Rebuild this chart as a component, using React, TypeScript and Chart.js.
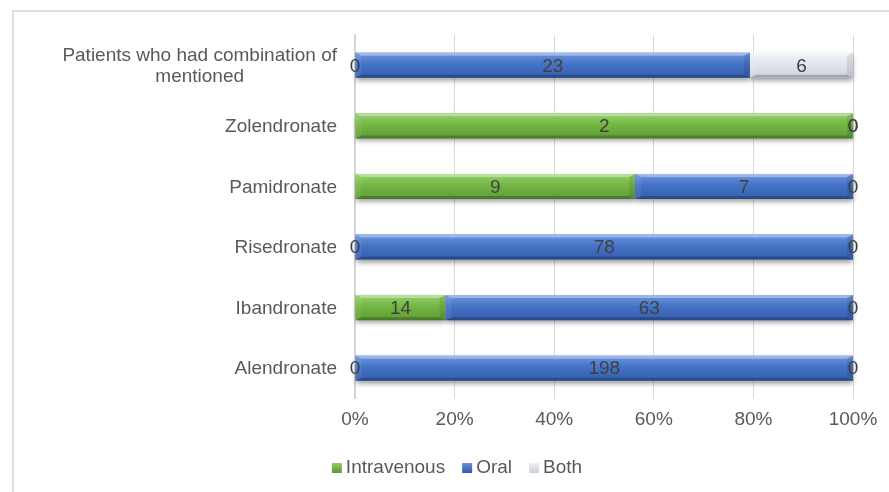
import React, { useEffect, useRef } from 'react';
import { Chart, registerables } from 'chart.js';

Chart.register(...registerables);

// Treatment categories, top to bottom
const CATEGORIES: (string | string[])[] = [
  ['Patients who had combination of', 'mentioned'],
  'Zolendronate',
  'Pamidronate',
  'Risedronate',
  'Ibandronate',
  'Alendronate',
];

// Patient counts per route of administration
const SERIES_NAMES = ['Intravenous', 'Oral', 'Both'];
const INTRAVENOUS = [0, 2, 9, 0, 14, 0];
const ORAL = [23, 0, 7, 78, 63, 198];
const BOTH = [6, 0, 0, 0, 0, 0];

const PERCENT_STEP = 20;

const FONT = "'Liberation Sans', Arial, sans-serif";
const FONT_SIZE = 19;

type Palette = { top: string; mid: string; bottom: string; base: string };
const PALETTES: Palette[] = [
  { top: '#96d06c', mid: '#74b644', bottom: '#5e9c36', base: '#70ad47' },
  { top: '#6f97df', mid: '#4472c6', bottom: '#365fae', base: '#4472c4' },
  { top: '#f1f3f7', mid: '#e2e6ed', bottom: '#cdd3dc', base: '#dfe3ea' },
];

const COUNTS = [INTRAVENOUS, ORAL, BOTH];
const TOTALS = CATEGORIES.map((_, i) => COUNTS.reduce((s, arr) => s + arr[i], 0));
const SHARES = COUNTS.map((arr) => arr.map((v, i) => (TOTALS[i] ? (v / TOTALS[i]) * 100 : 0)));

function segmentRect(el: any) {
  const { x, y, base, height } = el.getProps(['x', 'y', 'base', 'height'], true);
  const l = Math.min(x, base);
  const r = Math.max(x, base);
  return { l, r, t: y - height / 2, b: y + height / 2, cx: (x + base) / 2, cy: y };
}

function drawBevel(ctx: CanvasRenderingContext2D, l: number, t: number, r: number, b: number, p: Palette) {
  const w = Math.min(6, (r - l) / 2);
  const g = ctx.createLinearGradient(0, t, 0, b);
  g.addColorStop(0, p.top);
  g.addColorStop(0.45, p.mid);
  g.addColorStop(1, p.bottom);
  ctx.fillStyle = g;
  ctx.fillRect(l, t, r - l, b - t);

  const facet = (pts: number[][], color: string) => {
    ctx.beginPath();
    ctx.moveTo(pts[0][0], pts[0][1]);
    for (let k = 1; k < pts.length; k++) ctx.lineTo(pts[k][0], pts[k][1]);
    ctx.closePath();
    ctx.fillStyle = color;
    ctx.fill();
  };
  const bw = 3;
  facet([[l, t], [r, t], [r - w, t + bw], [l + w, t + bw]], 'rgba(255,255,255,0.35)');
  facet([[l, b], [r, b], [r - w, b - bw], [l + w, b - bw]], 'rgba(0,0,0,0.22)');
  facet([[l, t], [l + w, t + bw], [l + w, b - bw], [l, b]], 'rgba(255,255,255,0.07)');
  facet([[r, t], [r - w, t + bw], [r - w, b - bw], [r, b]], 'rgba(0,0,0,0.09)');
}

const bevelBars = {
  id: 'bevelBars',
  beforeDatasetsDraw(chart: any) {
    const ctx: CanvasRenderingContext2D = chart.ctx;
    ctx.save();
    ctx.shadowColor = 'rgba(0,0,0,0.4)';
    ctx.shadowBlur = 5;
    ctx.shadowOffsetY = 3;
    ctx.fillStyle = '#ffffff';
    chart.data.datasets.forEach((_: any, di: number) => {
      chart.getDatasetMeta(di).data.forEach((el: any) => {
        const s = segmentRect(el);
        if (s.r - s.l < 0.5) return;
        ctx.fillRect(s.l, s.t, s.r - s.l, s.b - s.t);
      });
    });
    ctx.restore();
  },
  afterDatasetsDraw(chart: any) {
    const ctx: CanvasRenderingContext2D = chart.ctx;
    ctx.save();
    chart.data.datasets.forEach((_: any, di: number) => {
      chart.getDatasetMeta(di).data.forEach((el: any) => {
        const s = segmentRect(el);
        if (s.r - s.l < 0.5) return;
        drawBevel(ctx, s.l, s.t, s.r, s.b, PALETTES[di]);
      });
    });
    // value labels, centred in each segment
    ctx.font = `${FONT_SIZE}px ${FONT}`;
    ctx.fillStyle = '#404040';
    ctx.textAlign = 'center';
    ctx.textBaseline = 'middle';
    chart.data.datasets.forEach((_: any, di: number) => {
      chart.getDatasetMeta(di).data.forEach((el: any, i: number) => {
        const s = segmentRect(el);
        ctx.fillText(String(COUNTS[di][i]), s.cx, s.cy + 1);
      });
    });
    ctx.restore();
  },
  afterDraw(chart: any) {
    const ctx: CanvasRenderingContext2D = chart.ctx;
    const yScale = chart.scales.y;
    ctx.save();
    ctx.font = `${FONT_SIZE}px ${FONT}`;
    ctx.fillStyle = '#595959';
    ctx.textAlign = 'center';
    ctx.textBaseline = 'middle';
    const rightEdge = chart.chartArea.left - 18;
    const lineH = 21;
    CATEGORIES.forEach((lab, i) => {
      const lines = Array.isArray(lab) ? lab : [lab];
      const maxW = Math.max(...lines.map((ln) => ctx.measureText(ln).width));
      const cx = rightEdge - maxW / 2;
      const cy = yScale.getPixelForValue(i);
      lines.forEach((ln, k) => {
        ctx.fillText(ln, cx, cy + (k - (lines.length - 1) / 2) * lineH + 1);
      });
    });

    // legend
    const box = 10;
    const gapText = 4;
    const gapItem = 17;
    const widths = SERIES_NAMES.map((n) => box + gapText + ctx.measureText(n).width);
    const total = widths.reduce((a, b) => a + b, 0) + gapItem * (SERIES_NAMES.length - 1);
    let x = 457 - total / 2;
    const ly = 467;
    ctx.textAlign = 'left';
    SERIES_NAMES.forEach((n, i) => {
      const p = PALETTES[i];
      const g = ctx.createLinearGradient(0, ly - box / 2, 0, ly + box / 2);
      g.addColorStop(0, p.top);
      g.addColorStop(1, p.bottom);
      ctx.fillStyle = g;
      ctx.fillRect(x, ly - box / 2 + 1, box, box);
      ctx.fillStyle = '#595959';
      ctx.fillText(n, x + box + gapText, ly + 1);
      x += widths[i] + gapItem;
    });
    ctx.restore();
  },
};

export default function App() {
  const canvasRef = useRef<HTMLCanvasElement | null>(null);

  useEffect(() => {
    if (!canvasRef.current) return;
    const chart = new Chart(canvasRef.current, {
      type: 'bar',
      data: {
        labels: CATEGORIES,
        datasets: SERIES_NAMES.map((name, di) => ({
          label: name,
          data: SHARES[di],
          backgroundColor: PALETTES[di].base,
          borderWidth: 0,
          categoryPercentage: 1,
          barPercentage: 0.413,
        })),
      },
      options: {
        indexAxis: 'y',
        responsive: false,
        animation: false,
        layout: { padding: { top: 35, right: 36, bottom: 0, left: 0 } },
        plugins: {
          legend: { display: false },
          tooltip: { enabled: false },
        },
        scales: {
          x: {
            stacked: true,
            min: 0,
            max: 100,
            ticks: {
              stepSize: PERCENT_STEP,
              callback: (v: any) => `${v}%`,
              color: '#595959',
              font: { family: FONT, size: FONT_SIZE },
              padding: 10,
              maxRotation: 0,
            },
            grid: { color: '#d9d9d9', lineWidth: 1, drawTicks: false },
            border: { display: false },
            afterFit: (scale: any) => {
              scale.height = 93.5;
            },
          },
          y: {
            stacked: true,
            ticks: { display: false },
            grid: { display: false },
            border: { display: true, color: '#d4d4d4', width: 2 },
            afterFit: (scale: any) => {
              scale.width = 355;
            },
          },
        },
      },
      plugins: [bevelBars],
    } as any);
    return () => chart.destroy();
  }, []);

  return (
    <div style={{ position: 'fixed', left: 0, top: 0, width: 889, height: 492, overflow: 'hidden', background: '#ffffff' }}>
      <div
        style={{
          position: 'absolute',
          left: 12,
          top: 10,
          width: 1000,
          height: 1000,
          border: '2px solid #dedede',
          boxSizing: 'border-box',
        }}
      />
      <canvas ref={canvasRef} width={889} height={492} style={{ position: 'absolute', left: 0, top: 0 }} />
    </div>
  );
}
